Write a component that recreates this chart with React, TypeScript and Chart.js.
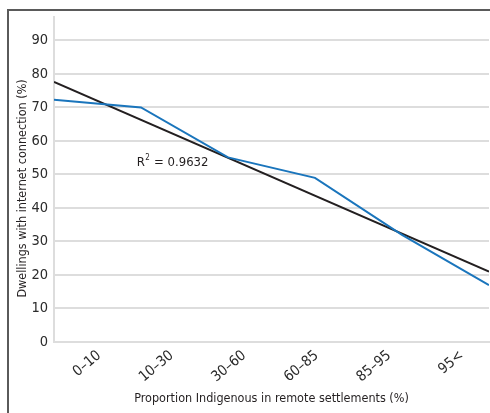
import React, { useEffect, useRef } from "react";
import { Chart, registerables } from "chart.js";

Chart.register(...registerables);

const categories = ["0–10", "10–30", "30–60", "60–85", "85–95", "95<"];
const internetShare = [72.3, 70.0, 55.1, 49.0, 32.0, 17.0];
const trendStart = 77.6;
const trendEnd = 21.0;
const rSquaredLabel = "0.9632";
const yTicks = [0, 10, 20, 30, 40, 50, 60, 70, 80, 90];
const yMax = 97;

const FONT = "'DejaVu Sans'";
const STRETCH = "condensed";

const r2Plugin = {
  id: "r2label",
  afterDatasetsDraw(chart: any) {
    const { ctx, scales } = chart;
    const x = scales.x.getPixelForValue(0.95);
    const y = scales.y.getPixelForValue(52.5);
    ctx.save();
    ctx.fillStyle = "#231f20";
    ctx.textBaseline = "alphabetic";
    ctx.textAlign = "left";
    ctx.font = `${STRETCH} 13px ${FONT}`;
    ctx.fillText("R", x, y);
    const rw = ctx.measureText("R").width;
    ctx.font = `${STRETCH} 8px ${FONT}`;
    ctx.fillText("2", x + rw + 0.5, y - 6);
    const sw = ctx.measureText("2").width;
    ctx.font = `${STRETCH} 13px ${FONT}`;
    ctx.fillText(" = " + rSquaredLabel, x + rw + sw + 1, y);
    ctx.restore();
  },
};

export default function App() {
  const canvasRef = useRef<HTMLCanvasElement | null>(null);

  useEffect(() => {
    document.body.style.margin = "0";
    document.documentElement.style.overflow = "hidden";
    if (!canvasRef.current) return;
    const chart = new Chart(canvasRef.current, {
      type: "line",
      data: {
        labels: categories,
        datasets: [
          {
            label: "Dwellings with internet connection",
            data: internetShare.map((v, i) => ({ x: i, y: v })),
            borderColor: "#1a75bc",
            borderWidth: 2,
            pointRadius: 0,
            tension: 0,
            xAxisID: "x",
            yAxisID: "y",
          },
          {
            label: "Trend",
            data: [
              { x: 0, y: trendStart },
              { x: categories.length - 1, y: trendEnd },
            ],
            borderColor: "#231f20",
            borderWidth: 2,
            pointRadius: 0,
            tension: 0,
            xAxisID: "x",
            yAxisID: "y",
          },
        ],
      },
      options: {
        animation: false,
        responsive: true,
        maintainAspectRatio: false,
        layout: { padding: { left: 0, top: 6, right: 1, bottom: 0 } },
        plugins: {
          legend: { display: false },
          tooltip: { enabled: false },
        },
        scales: {
          x: {
            type: "linear",
            display: false,
            min: 0,
            max: categories.length - 1,
          },
          xc: {
            type: "category",
            position: "bottom",
            offset: true,
            grid: { display: false },
            border: { display: true, color: "#dddddd", width: 2 },
            ticks: {
              color: "#2b2b2b",
              font: { family: FONT, size: 14.5, weight: STRETCH as any },
              minRotation: 40,
              maxRotation: 40,
              labelOffset: 9,
              padding: -3,
              autoSkip: false,
            },
            title: {
              display: true,
              text: "Proportion Indigenous in remote settlements (%)",
              color: "#231f20",
              font: { family: FONT, size: 12.5, weight: STRETCH as any },
              padding: { top: 0, bottom: 7 },
            },
            afterFit(scale: any) {
              scale.height = 71;
              scale.paddingLeft = 0;
              scale.paddingRight = 0;
            },
          },
          y: {
            type: "linear",
            min: 0,
            max: yMax,
            afterBuildTicks(scale: any) {
              scale.ticks = yTicks.map((v) => ({ value: v }));
            },
            grid: { color: "#dddddd", lineWidth: 2, drawTicks: false },
            border: { display: true, color: "#dddddd", width: 2 },
            ticks: {
              color: "#2b2b2b",
              font: { family: FONT, size: 14.5, weight: STRETCH as any },
              padding: 6,
            },
            title: {
              display: true,
              text: "Dwellings with internet connection (%)     ",
              color: "#231f20",
              font: { family: FONT, size: 12.5, weight: STRETCH as any },
              padding: { top: 6, bottom: 0 },
            },
            afterFit(scale: any) {
              scale.width = 45;
              scale.paddingTop = 0;
              scale.paddingBottom = 0;
            },
          },
        },
      },
      plugins: [r2Plugin],
    });
    return () => chart.destroy();
  }, []);

  return (
    <div
      style={{
        marginLeft: 7,
        marginTop: 9,
        width: 483,
        height: 404,
        borderLeft: "2px solid #5a5a5a",
        borderTop: "2px solid #5a5a5a",
        boxSizing: "border-box",
        overflow: "hidden",
      }}
    >
      <div style={{ position: "relative", width: 481, height: 402 }}>
        <canvas ref={canvasRef} />
      </div>
    </div>
  );
}
